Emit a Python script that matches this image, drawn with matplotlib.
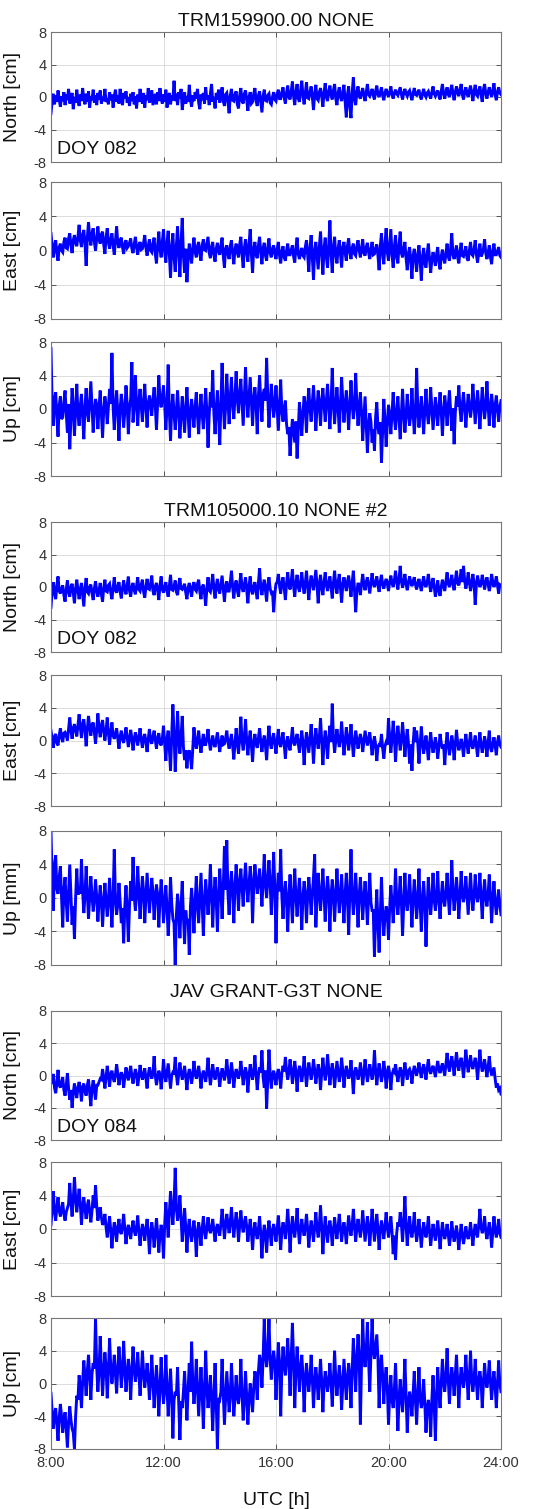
import numpy as np
import matplotlib.pyplot as plt

plt.rcParams["font.family"] = ["Liberation Sans", "DejaVu Sans"]

TITLES = ["TRM159900.00 NONE", "TRM105000.10 NONE #2", "JAV GRANT-G3T NONE"]
DOY_LABELS = ["DOY 082", "DOY 082", "DOY 084"]
Y_LABELS = [
    ["North [cm]", "East [cm]", "Up [cm]"],
    ["North [cm]", "East [cm]", "Up [mm]"],
    ["North [cm]", "East [cm]", "Up [cm]"],
]
X_TICKS = [8, 12, 16, 20, 24]
X_TICK_LABELS = ["8:00", "12:00", "16:00", "20:00", "24:00"]
Y_TICKS = [-8, -4, 0, 4, 8]

# values, 2.5 min steps from 8:00 to 24:00 (one row per hour)
north_trm159900 = [
    -2.0, -0.5, 0.4, -0.9, 0.2, -0.6, 0.8, -0.3, -1.2, 0.1, -0.5, 0.6, -1.0, 0.3, -0.4, 1.0, -0.8, -0.1, 0.5, -1.5, 0.0, -0.7, 0.9, -0.4,
    -1.1, 0.3, -0.5, 1.1, -0.2, -0.9, 0.4, -0.6, 0.7, -1.3, 0.1, -0.4, 0.9, -0.7, 0.2, -1.0, 0.5, -0.3, 0.8, -0.8, 0.0, -0.5, 1.0, -0.6,
    -0.2, -0.9, 0.6, -0.4, 0.3, -1.3, 0.1, 0.9, -0.6, 0.2, -0.8, 1.0, -0.3, -1.0, 0.5, -0.2, 0.7, -0.7, 0.0, -1.1, 0.4, -0.5, 0.6, -0.9,
    0.1, -1.4, 0.3, -0.6, 1.0, -0.2, -0.8, 0.5, -1.3, 0.2, -0.4, 1.1, -0.7, 0.0, 0.8, -1.0, -0.3, 0.4, -0.9, 0.6, -0.5, 1.1, -0.2, -0.8,
    0.3, -0.6, 0.9, -1.3, -0.1, 0.5, -0.9, 0.2, -0.4, 2.0, -0.5, 0.4, -1.0, 0.6, -0.2, 1.0, -1.6, -0.3, 0.6, -0.8, 0.1, -0.6, 1.5, -0.4,
    -1.2, 0.2, -0.5, 0.6, -0.2, 1.0, -0.7, -1.5, 0.3, -0.4, 0.5, -0.8, 1.2, -0.3, 0.2, -1.0, 0.4, 1.6, -0.6, 0.0, -1.4, 0.5, -0.3, 0.9,
    -0.7, 0.1, 1.2, -0.5, -1.1, 0.3, 0.5, -0.6, -2.0, 0.2, 1.0, -0.4, -0.5, 0.3, 0.7, -0.9, -1.4, 0.2, 1.1, -0.5, -0.8, 0.4, 0.8, -0.3,
    -1.7, 0.0, 0.6, -0.8, -0.6, 0.4, 1.1, -0.5, -1.1, 0.2, 0.7, -0.6, -1.9, 0.1, 0.9, -0.4, -0.5, 0.2, 0.4, -0.7, -0.9, 0.0, 0.6, -0.3,
    -0.5, 0.4, 0.9, -0.2, -0.2, 0.6, 1.2, -0.1, -0.8, 0.5, 1.4, 0.0, -0.3, 0.7, 1.9, 0.1, -1.0, 0.6, 1.6, -0.2, -0.6, 0.8, 2.0, 0.2,
    -0.9, 0.5, 1.8, -0.1, -0.2, 0.6, 1.3, 0.0, -1.6, 0.4, 1.5, -0.2, -0.4, 0.6, 1.1, 0.1, -1.2, 0.5, 1.7, 0.0, -0.5, 0.7, 1.4, 0.2,
    -0.3, 0.8, 1.6, -0.2, -1.0, 0.5, 1.2, 0.0, -0.5, 0.6, 1.5, -0.6, -2.5, 0.3, 1.3, -1.2, -2.6, 0.5, 2.4, -0.3, -1.0, 0.6, 1.3, 0.1,
    -0.2, 0.5, 1.1, 0.2, -0.5, 0.6, 1.6, 0.3, 0.1, 0.5, 1.0, 0.2, -0.3, 0.7, 1.4, 0.3, 0.0, 0.6, 1.2, 0.2, -0.4, 0.5, 1.0, 0.4,
    0.0, 0.6, 1.3, 0.3, -0.2, 0.5, 0.9, 0.4, 0.2, 0.7, 1.2, 0.3, -0.3, 0.5, 1.0, 0.4, 0.1, 0.6, 0.8, 0.2, -0.4, 0.5, 1.1, 0.3,
    0.2, 0.6, 0.9, 0.1, -0.3, 0.4, 1.0, 0.3, 0.0, 0.5, 0.7, 0.2, -0.2, 0.6, 1.3, 0.4, 0.1, 0.5, 0.8, 0.2, -0.3, 0.7, 1.6, 0.4,
    -0.2, 0.6, 1.2, 0.3, 0.0, 0.8, 1.5, 0.4, -0.4, 0.6, 1.3, 0.5, 0.1, 0.9, 1.6, 0.3, -0.3, 0.6, 1.2, 0.4, 0.0, 0.8, 1.4, 0.5,
    -0.5, 0.7, 1.5, 0.3, 0.1, 0.8, 1.3, 0.2, -0.6, 0.9, 1.6, 0.4, -0.2, 0.6, 1.2, 0.5, 0.0, 0.8, 1.7, 0.3, -0.4, 0.6, 1.2, 0.5,
    0.3,
]
east_trm159900 = [
    2.0, 0.5, -0.8, 0.6, 1.2, -0.3, -1.2, 0.4, 0.8, 0.0, -0.2, 1.0, 1.5, 0.3, 0.2, 1.4, 2.0, 0.6, -0.3, 1.2, 1.8, 0.9, 0.5, 1.6,
    3.0, 1.2, 0.4, 1.8, 2.4, 0.8, -1.8, 1.5, 3.3, 1.6, 0.6, 2.0, 2.6, 1.0, 0.0, 1.4, 2.8, 1.3, 0.8, 1.9, 2.2, 0.7, -0.4, 1.5,
    2.6, 1.0, 0.2, 1.3, 2.0, 0.6, -0.5, 1.1, 2.8, 0.9, 0.3, 1.2, 1.5, 0.4, -0.4, 0.8, 1.2, 0.3, 0.5, 0.9, 1.4, 0.2, -0.3, 0.7,
    1.6, 0.4, -0.5, 0.6, 1.0, 0.1, 0.2, 0.9, 1.8, 0.3, -0.6, 0.5, 1.3, 0.0, -0.2, 0.8, 1.5, -0.4, -1.5, 0.6, 2.2, 0.2, -0.8, 1.0,
    2.5, -0.2, -1.4, 0.9, 2.3, -0.5, -3.2, 0.4, 2.0, -0.8, -2.5, 0.6, 2.8, -0.3, -3.1, 1.0, 3.8, -0.6, -2.6, 0.2, -3.7, -1.0, 0.8, -0.5,
    -1.5, 0.3, 1.5, -0.2, -0.8, 0.5, 1.0, -0.4, -1.2, 0.6, 1.3, 0.1, 0.0, 0.8, 1.6, -0.3, -0.9, 0.4, 1.0, -0.5, -1.3, 0.2, 0.9, -0.1,
    -0.5, 0.6, 1.5, -0.6, -2.0, 0.2, 0.6, -0.4, -1.0, 0.5, 1.2, -0.3, -1.6, 0.1, 0.8, -0.2, -0.8, 0.7, 1.6, -0.5, -2.0, 0.3, 1.3, -0.2,
    -1.3, 0.8, 2.5, -0.4, -2.6, 0.2, 1.0, -0.5, -0.9, 0.6, 1.6, -0.2, -1.6, 0.3, 0.9, -0.6, -1.2, 0.4, 1.4, -0.3, -0.8, 0.2, 0.6, -0.4,
    -1.0, 0.2, 1.0, -0.6, -1.5, -0.1, 0.5, -0.8, -1.2, 0.0, 0.8, -0.5, -0.5, 0.1, 0.6, -0.7, -1.4, 0.3, 1.5, -0.4, -1.0, -0.2, 0.3, -0.6,
    -0.8, 0.4, 1.2, -0.5, -2.5, 0.3, 1.8, -0.9, -3.4, 0.0, 1.0, -0.6, -2.2, 0.5, 2.2, -0.4, -2.8, 0.2, 1.5, -0.8, -2.0, 0.6, 3.5, -0.3,
    -2.6, 0.3, 1.6, -0.5, -1.5, 0.2, 1.2, -0.4, -2.0, 0.4, 1.0, -0.3, -1.2, 0.6, 1.4, -0.2, -1.0, 0.3, 0.8, -0.4, -0.6, 0.5, 1.2, 0.0,
    -0.8, 0.2, 1.3, -0.3, -0.6, 0.4, 0.9, -0.2, -1.0, 0.1, 1.0, -0.5, -0.4, 0.3, 0.7, -0.6, -2.3, 0.5, 2.0, -0.4, -1.6, 0.8, 2.6, -0.2,
    -1.2, 0.6, 2.5, -0.5, -2.0, 0.4, 1.8, -0.8, -1.5, 0.7, 2.2, -0.3, -0.8, 0.2, 1.0, -0.9, -2.3, -0.4, 0.4, -1.2, -3.3, -0.6, 0.2, -1.0,
    -2.5, -0.5, 0.6, -1.2, -3.5, -0.8, 0.3, -1.5, -2.0, -0.4, 0.8, -1.0, -2.6, -1.1, -0.2, -0.9, -1.8, -0.5, 0.4, -1.3, -2.2, -0.7, 0.1, -0.9,
    -1.5, -0.3, 0.8, -0.7, -1.2, 0.2, 2.0, -0.5, -1.0, -0.2, 0.6, -0.8, -1.5, -0.1, 0.9, -0.6, -0.7, -0.2, 0.5, -0.9, -1.2, 0.0, 1.0, -0.4,
    -0.6, 0.1, 1.2, -0.5, -1.4, -0.2, 0.8, -0.7, -0.4, 0.2, 1.3, -0.3, -1.0, -0.3, 0.6, -0.8, -1.6, 0.0, 0.8, -0.5, -0.5, -0.1, 0.4, -0.6,
    -0.8,
]
up_trm159900 = [
    7.2, 0.5, -2.0, 1.2, 2.0, -0.8, -3.3, 0.4, 1.5, -1.2, -1.0, 0.8, 2.2, -0.5, -2.8, 0.6, -4.8, -1.0, 2.5, 0.3, -3.2, 0.0, 3.0, -0.6,
    -2.0, 0.4, 1.8, -0.8, -3.6, 0.2, 2.5, -0.4, -1.5, 0.8, 3.3, 0.1, -2.8, -0.3, 1.2, 0.5, -2.4, 0.2, 2.2, -0.6, -3.4, -0.2, 1.5, 0.4,
    -1.8, 0.3, 2.4, 0.6, 6.7, 0.2, -2.5, 0.5, 2.2, -0.4, -3.8, 0.0, 1.8, 0.4, -2.2, -0.3, 2.8, 0.6, -3.0, 0.1, 1.2, 5.6, -1.6, 0.4,
    4.0, 0.6, -2.0, 0.9, 2.4, 0.3, -1.5, 1.0, 3.0, 0.2, -2.2, 0.7, 1.6, 0.5, -0.8, 1.2, 2.6, 0.4, -2.5, 0.8, 4.0, 1.0, 0.2, 1.4,
    2.8, 0.5, -2.5, 0.2, 5.3, -0.3, -3.8, 0.0, 1.8, -0.6, -2.5, -0.2, 2.2, -0.4, -3.5, -0.8, 1.5, -0.5, -2.8, 0.1, 2.6, -0.6, -3.4, -0.3,
    1.2, -0.5, -2.2, 0.3, 2.0, -0.8, -3.0, -0.2, 1.8, -0.6, -2.4, 0.1, 2.5, -0.4, -4.6, -0.7, 2.0, 0.2, 4.6, -0.5, -3.0, 0.0, 2.2, -0.9,
    -4.3, 0.5, 5.5, 0.8, -2.4, 0.3, 4.2, 1.0, -1.8, 1.4, 3.8, 0.6, -1.2, 1.5, 4.5, 1.2, -0.5, 1.8, 3.6, 0.9, -2.0, 1.6, 5.0, 1.3,
    -1.0, 1.5, 3.8, 0.8, -2.0, 1.2, 2.6, 0.5, -3.0, 1.6, 4.0, 0.9, -1.5, 1.8, 2.4, 1.0, 6.1, 1.4, -2.2, 0.6, 3.0, 1.1, -1.0, 0.4,
    2.8, 0.2, -2.6, 0.5, 3.5, -0.3, -1.5, 0.1, 1.0, -1.8, -3.0, -2.2, -5.6, -3.0, -1.2, -2.6, -4.0, -1.5, -5.9, -2.4, 0.8, -1.0, -3.2, -0.5,
    1.5, 0.3, -2.8, 0.6, 2.5, 0.0, -1.5, 0.8, 2.8, 0.4, -2.6, 0.2, 2.2, 0.6, -2.0, 0.9, 2.5, 0.5, -1.5, 1.0, 3.0, 0.3, -2.4, 0.7,
    4.9, 0.8, -1.8, 0.4, 2.6, 0.2, -2.8, 0.6, 3.8, 0.9, -1.6, 0.5, 2.2, 0.1, -2.5, 0.4, 3.4, 0.7, -1.2, 0.3, 4.3, 0.6, -2.0, 0.2,
    2.0, -0.5, -3.8, -1.2, 1.5, -1.8, -5.2, -2.0, -0.5, -1.5, -4.0, -2.4, -5.0, -1.0, 0.8, -2.2, -3.0, -1.6, -6.4, -2.5, 1.2, -1.4, -4.5, -1.8,
    0.5, -0.8, -3.0, -0.4, 2.0, -1.0, -2.5, -0.2, 1.5, -1.2, -3.6, -0.6, 2.4, -0.5, -2.8, -0.9, 1.8, -0.3, -2.0, -0.7, 2.5, -0.4, -3.0, -0.8,
    4.9, 0.2, -2.2, -0.3, 1.5, -0.6, -3.0, 0.0, 2.4, -0.4, -1.8, -0.2, 2.6, 0.1, -2.5, -0.5, 1.4, -0.2, -2.0, 0.2, 2.0, -0.3, -3.2, -0.4,
    1.6, 0.2, -2.0, 0.4, 2.2, -0.3, -2.6, 0.1, -4.2, -0.5, 1.5, 0.3, 2.8, 0.0, -1.5, 0.5, 2.0, 0.2, -2.2, -0.1, 1.8, 0.4, -1.0, 0.3,
    3.0, 0.5, -1.8, 0.2, 2.2, 0.4, -2.4, 0.0, 2.6, 0.6, -1.2, 0.3, 3.3, 0.5, -2.0, 0.1, 1.8, 0.3, -2.2, 0.4, 1.6, 0.0, -1.5, 0.2,
    1.0,
]

north_trm105000 = [
    -2.5, -0.4, 0.6, -0.8, -1.5, 0.2, 1.3, -0.5, -0.8, -0.2, 0.2, -1.0, -1.8, -0.3, 0.8, -0.6, -1.2, 0.0, 0.4, -0.7, -2.0, -0.2, 0.9, -0.4,
    -1.5, -0.3, 0.5, -0.9, -2.4, -0.1, 1.1, -0.6, -0.8, 0.0, 0.3, -0.8, -1.6, -0.2, 0.7, -0.5, -1.2, -0.4, 0.5, -0.9, -1.8, -0.1, 0.9, -0.5,
    -0.6, 0.2, 0.4, -0.7, -1.5, -0.1, 1.2, -0.4, -0.7, 0.1, 0.6, -0.6, -1.4, -0.2, 0.8, -0.3, -0.9, 0.2, 1.3, -0.5, -1.2, 0.0, 0.5, -0.4,
    -0.9, 0.1, 1.2, -0.3, -0.5, 0.3, 0.9, -0.6, -1.3, 0.0, 1.0, -0.2, -0.3, 0.4, 1.4, -0.5, -1.0, 0.1, 0.5, -0.4, -1.6, 0.2, 1.3, -0.3,
    -0.7, 0.0, 0.6, -0.5, -1.2, 0.2, 1.5, -0.3, -0.4, 0.1, 0.8, -0.6, -1.0, 0.3, 1.1, -0.2, -0.3, 0.0, 0.4, -0.7, -1.5, -0.1, 0.5, -0.4,
    -1.2, 0.1, 0.6, -0.3, -0.5, 0.4, 0.9, -0.6, -1.5, 0.0, 0.3, -0.8, -2.3, -0.2, 1.2, -0.4, -0.6, 0.3, 1.6, -0.2, -1.4, 0.1, 1.0, -0.3,
    -0.8, 0.3, 1.4, -0.2, -1.8, 0.1, 0.7, -0.5, -0.5, 0.6, 2.0, 0.0, -1.4, 0.2, 0.8, -0.4, -1.2, 0.4, 1.7, -0.1, -0.6, 0.3, 1.2, -0.3,
    -2.0, 0.2, 1.3, -0.4, -0.9, 0.1, 0.6, -0.6, -1.5, 0.5, 2.3, 0.0, -1.0, 0.2, 0.9, -0.5, -1.8, 0.3, 1.2, -0.2, -0.7, -0.5, -3.1, -0.8,
    0.4, 0.6, 1.6, 0.2, -0.8, 0.5, 1.2, -0.1, -1.6, 0.4, 1.8, 0.3, -0.3, 0.7, 2.2, 0.1, -1.2, 0.5, 1.5, 0.0, -0.6, 0.6, 1.8, 0.2,
    -0.8, 0.4, 2.0, 0.1, -1.6, 0.3, 1.4, 0.5, -0.4, 0.8, 2.1, 0.2, -2.0, 0.4, 1.5, -0.1, -1.0, 0.6, 1.8, 0.3, -0.5, 0.5, 1.3, 0.0,
    -1.4, 0.5, 2.0, 0.2, -0.8, 0.6, 1.6, -0.2, -1.9, 0.3, 1.2, 0.4, -0.5, 0.7, 1.4, 0.1, -1.2, 0.5, 2.0, -0.4, -3.1, -0.6, 0.5, 0.2,
    -1.0, 0.4, 1.6, 0.3, -0.4, 0.6, 1.2, 0.2, -0.8, 0.5, 1.7, 0.4, 0.0, 0.6, 1.3, 0.2, -0.6, 0.7, 1.5, 0.3, -0.2, 0.5, 1.0, 0.4,
    -0.5, 0.6, 1.4, 0.5, 0.0, 0.8, 2.0, 0.6, -0.3, 1.0, 2.6, 0.7, -0.1, 0.6, 1.6, 0.4, -0.4, 0.5, 1.3, 0.6, 0.1, 0.7, 1.2, 0.3,
    -0.3, 0.4, 1.0, 0.2, -0.5, 0.5, 1.3, 0.3, 0.0, 0.6, 1.6, 0.4, -0.6, 0.3, 1.1, 0.1, -1.2, -0.3, 0.8, -0.5, -1.1, 0.0, 0.9, 0.2,
    -0.5, 0.6, 1.8, 0.4, 0.0, 0.7, 1.5, 0.3, -0.4, 0.8, 2.0, 0.5, 0.2, 0.9, 2.2, 0.6, 2.6, 0.8, -0.2, 0.5, 1.8, 0.6, -0.5, 0.4,
    1.6, 0.5, -2.2, 0.3, 1.4, 0.6, 0.0, 0.4, 1.5, 0.7, -0.3, 0.5, 1.2, 0.4, -0.5, 0.3, 1.6, 0.6, 0.0, 0.5, 1.3, 0.2, -0.8, 0.3,
    0.2,
]
east_trm105000 = [
    1.2, 0.2, -0.9, 0.5, 0.8, -0.3, -0.6, 0.6, 1.5, 0.4, -0.2, 0.9, 1.0, 0.6, 0.0, 1.4, 2.8, 1.3, 0.2, 1.5, 2.0, 1.2, 0.5, 1.8,
    3.2, 1.6, 0.3, 2.0, 2.6, 1.2, -0.7, 1.4, 3.0, 1.7, 0.6, 1.9, 2.2, 1.0, -0.4, 1.3, 3.3, 1.5, 0.4, 1.8, 2.5, 1.1, 0.0, 1.2,
    2.8, 0.9, -0.5, 1.0, 2.2, 0.6, 0.2, 0.8, 1.5, 0.3, -1.0, 0.5, 1.2, 0.2, -0.3, 0.6, 1.6, 0.4, -0.8, 0.2, 1.3, 0.3, -1.2, 0.1,
    1.0, 0.3, -0.6, 0.4, 1.5, 0.1, -0.9, 0.3, 0.8, -0.2, -1.4, 0.2, 1.4, 0.0, -0.4, 0.5, 1.2, 0.1, -1.0, 0.3, 0.9, -0.3, -0.6, 0.2,
    1.8, -0.4, -2.5, 0.2, 1.2, -1.0, -3.7, 0.6, 4.4, 0.8, -3.8, -0.5, 3.6, 0.2, -1.6, 0.5, 3.0, -0.8, -2.4, -1.2, -3.4, -1.5, -1.2, -2.0,
    -3.5, -1.0, 1.6, -0.3, -1.0, 0.2, 1.2, -0.4, -1.5, -0.2, 0.8, -0.5, -0.5, 0.3, 1.4, -0.1, -1.2, -0.3, 0.6, -0.4, -0.8, 0.1, 1.0, -0.2,
    -1.4, -0.2, 0.6, -0.5, -0.4, 0.3, 1.2, -0.2, -1.0, -0.1, 0.8, -0.6, -2.3, -0.4, 1.5, -0.3, -1.6, 0.2, 2.9, 0.0, -1.2, 0.4, 2.6, -0.1,
    -1.8, 0.0, 1.2, -0.6, -2.6, -0.2, 0.8, -0.4, -0.9, 0.3, 1.5, -0.2, -1.4, -0.1, 0.6, -0.7, -2.4, 0.1, 1.8, -0.3, -1.0, 0.2, 0.9, -0.4,
    -1.6, 0.0, 1.4, -0.3, -0.8, 0.2, 1.0, -0.5, -2.2, -0.3, 0.5, -0.6, -1.2, 0.1, 1.6, -0.2, -0.6, 0.2, 0.8, -0.4, -1.5, 0.0, 1.2, -0.3,
    -3.0, -0.4, 1.0, -0.2, -1.5, 0.3, 2.0, -0.1, -2.8, -0.2, 1.5, 0.1, -1.0, 0.4, 2.7, 0.0, -3.0, -0.3, 1.2, -0.1, -2.2, 0.2, 1.8, -0.2,
    4.5, 0.3, -1.5, 0.0, 1.4, 0.2, -0.8, 0.3, 2.3, 0.1, -1.8, -0.2, 1.6, 0.4, -1.2, 0.1, 2.0, 0.0, -2.0, -0.3, 1.2, 0.2, -1.0, 0.0,
    0.8, 0.1, -1.4, -0.2, 1.2, 0.3, -0.6, 0.1, 1.0, -0.3, -1.8, -0.4, 0.5, -0.5, -2.5, -0.8, -0.5, -0.6, 0.8, -0.9, -2.2, -0.7, -0.2, -0.5,
    2.7, 0.4, -1.5, 0.2, 2.4, 0.5, -2.6, 0.0, 1.8, 0.3, -1.2, 0.1, 2.2, 0.4, -2.0, -0.2, 1.4, -0.3, -2.8, -0.5, -3.7, -0.4, 1.6, -0.2,
    1.2, -0.3, -2.8, -0.5, 1.7, -0.2, -1.6, -0.6, 0.6, -0.8, -2.4, -0.4, 1.0, -0.5, -1.5, -0.7, 0.4, -0.6, -2.2, -0.8, 0.8, -0.3, -1.0, -0.5,
    -3.0, -0.6, 1.0, -0.4, -1.8, -0.8, 0.6, -0.3, -2.4, -0.5, 1.3, -0.2, -1.2, -0.7, 0.2, -0.6, -2.0, -0.4, 0.8, -0.5, -1.6, -0.3, 1.0, -0.6,
    -1.0, -0.3, 0.6, -0.7, -2.0, -0.4, 1.0, -0.5, -1.5, -0.6, 0.5, -0.4, -2.0, -0.3, 1.2, -0.8, -1.4, -0.5, 0.4, -0.6, -1.8, -0.2, 0.6, -0.5,
    -0.8,
]
up_trm105000 = [
    8.0, 2.0, -1.5, 4.0, 5.1, 1.0, 0.5, 2.5, 3.8, 0.2, -3.5, 1.0, 2.5, -0.5, -2.8, 0.6, 4.0, 0.3, -3.2, -1.0, -4.9, 0.0, 3.5, 0.4,
    1.0, 0.5, 4.6, 0.8, -1.8, 0.2, 3.8, 0.6, -2.5, 0.0, 2.6, 0.3, -1.6, -0.2, 2.2, 0.1, -2.8, -0.5, 1.5, -0.3, -3.4, -0.6, 1.8, -0.4,
    -2.2, -0.3, 2.4, -0.6, -3.5, 0.0, 5.8, -0.2, -2.0, -0.8, 1.8, -0.4, -3.0, -1.2, -5.4, -1.0, 1.5, -1.5, -5.2, -0.9, 2.0, -0.3, 4.9, 0.2,
    -1.5, 0.4, 3.8, 0.6, -2.5, 0.2, 2.6, 0.8, -3.0, 0.1, 3.0, 0.5, -1.8, 0.3, 2.4, 0.7, -2.6, 0.0, 1.6, 0.4, -3.5, -0.2, 2.2, 0.1,
    -3.0, -0.8, 1.5, -1.2, -4.5, -1.6, 2.5, -0.6, -2.5, -3.0, -8.0, -2.0, 0.5, -1.4, -4.8, -0.8, 2.0, -2.2, -5.5, -1.5, -3.0, -2.5, -6.8, -1.0,
    1.2, -1.0, -4.2, -0.5, 2.6, -0.8, -3.0, 0.0, 3.0, -0.6, -4.5, -0.3, 2.2, 0.2, -2.0, 0.4, 4.0, 0.1, -3.5, 0.3, 2.5, -0.2, -4.0, 0.5,
    3.5, 0.8, -2.5, 1.2, 6.2, 1.0, 6.9, 0.5, -2.0, 1.5, 3.2, 0.8, -3.0, 1.4, 4.0, 1.6, -1.5, 1.8, 3.5, 1.2, -1.0, 2.0, 4.2, 1.5,
    -0.5, 1.6, 3.8, 2.0, -3.0, 1.4, 4.0, 2.2, 0.5, 1.8, 3.5, 1.5, -1.0, 2.0, 5.2, 1.6, 0.0, 2.2, 4.5, 1.9, -2.0, 1.4, 5.5, 1.2,
    -5.4, 0.5, 3.0, 0.8, 5.8, 0.2, -2.5, 0.6, 2.0, -0.4, -4.0, 0.3, 2.8, 0.0, -3.0, 0.5, 3.5, 0.2, -2.2, 0.4, 2.4, -0.3, -3.8, 0.1,
    2.0, 0.4, -3.0, 0.2, 2.5, 0.6, -2.0, 0.3, 2.5, 5.2, -3.5, 0.0, 3.0, 0.5, -1.5, 0.8, 3.5, 0.2, -2.8, 0.4, 2.6, 0.6, -4.0, 0.3,
    2.2, 0.5, -2.8, 0.1, 3.5, 0.6, -1.8, 0.3, 2.8, 0.0, -3.0, 0.4, 3.0, 0.2, -4.4, 0.5, 5.8, 0.4, -2.0, 0.2, 3.0, 0.0, -3.5, 0.3,
    2.5, 0.2, -2.6, 0.0, 2.0, -0.3, -3.2, 0.2, 3.0, -0.5, -1.5, -1.5, -7.0, -2.5, 1.0, -3.0, -6.5, -2.0, 2.5, -1.6, -4.5, -2.2, -1.0, -1.8,
    -5.0, -1.2, 1.5, -0.6, -3.0, -0.4, 3.5, -0.2, -2.0, 0.0, 2.6, -0.5, -4.5, -0.8, 3.0, -0.3, -1.5, 0.2, 2.8, -0.4, -3.5, -0.2, 2.2, 0.0,
    -2.5, -0.3, 3.5, -0.6, -4.0, -0.2, 2.0, -0.5, -5.8, -1.0, 2.5, -0.3, -2.0, 0.0, 3.0, -0.2, -1.5, 0.3, 3.2, -0.4, -2.5, 0.1, 2.0, -0.2,
    -1.0, 0.6, 3.0, 0.2, -2.0, 0.5, 4.5, 0.8, -1.5, 0.3, 2.5, 0.4, -2.5, 0.1, 3.2, 0.6, -0.5, 0.5, 2.6, 0.2, -2.0, 0.4, 3.0, 0.3,
    -1.5, 0.2, 2.8, 0.5, -0.5, 0.6, 3.0, 0.1, -2.5, 0.3, 2.2, 0.0, -1.0, 0.4, 2.8, 0.2, -3.0, -0.2, 2.0, -0.4, -2.0, -0.5, 1.0, -0.8,
    -2.0,
]

north_jav = [
    -1.0, -0.8, 0.2, -1.5, -2.2, -1.0, 0.7, -1.2, -1.5, -0.9, -0.2, -1.8, -2.5, -1.3, 0.3, -1.6, -3.0, -1.8, -4.0, -2.2, -1.0, -2.0, -2.8, -1.5,
    -0.8, -1.8, -3.2, -1.4, -1.0, -2.0, -2.5, -1.2, -0.5, -2.2, -3.8, -1.6, -0.6, -1.8, -3.0, -1.2, -1.2, -0.8, -0.4, -0.5, 0.8, -0.3, -1.6, -0.2,
    1.2, 0.0, -1.4, 0.2, 0.6, -0.3, -0.8, 0.1, 1.4, 0.2, -1.2, -0.1, 0.4, 0.0, -1.5, -0.2, 1.0, 0.1, -0.6, 0.3, 1.2, -0.1, -1.0, 0.0,
    0.8, 0.1, -1.3, -0.2, 1.3, 0.3, -0.5, 0.0, 0.9, -0.3, -1.6, 0.1, 1.0, 0.2, -0.4, 0.3, 2.4, 0.0, -1.2, -0.2, 0.6, 0.1, -1.7, -0.1,
    2.0, 0.2, -0.8, 0.3, 1.5, -0.1, -1.6, 0.0, 0.4, 0.3, 2.3, 0.1, -1.2, 0.2, 1.6, 0.4, -0.5, 0.1, 1.2, -0.2, -1.8, 0.0, 0.8, 0.2,
    -1.0, 0.1, 1.8, 0.3, -0.4, 0.2, 1.2, 0.0, -1.6, -0.1, 0.6, 0.2, -0.8, 0.4, 2.2, 0.3, -1.2, 0.0, 1.4, 0.2, -0.5, 0.3, 1.0, 0.1,
    -1.4, 0.0, 0.9, 0.2, -0.6, 0.3, 2.0, 0.4, -1.0, 0.1, 1.6, 0.3, -1.5, -0.1, 0.8, 0.2, -0.4, 0.3, 1.8, 0.5, -1.2, 0.1, 1.0, 0.2,
    -2.1, 0.0, 1.4, 0.3, -0.5, 0.5, 2.5, 0.2, -1.8, 0.0, 1.0, 0.4, 3.1, -0.2, -1.5, 0.6, -4.1, -0.5, 3.2, 0.3, -1.6, 0.0, 0.6, -0.2,
    -1.2, 0.2, 0.8, -0.1, -1.6, 0.3, 1.2, 0.5, 2.3, 0.6, -0.5, 0.4, 2.0, 0.7, -1.0, 0.3, 1.8, 0.5, -2.0, 0.2, 1.2, 0.6, -0.8, 0.4,
    2.4, 0.5, -1.4, 0.3, 1.6, 0.6, -0.5, 0.4, 2.0, 0.7, -1.0, 0.2, 1.4, 0.5, -1.8, 0.3, 2.2, 0.6, -0.6, 0.4, 2.6, 0.8, -1.2, 0.3,
    1.5, 0.4, -1.5, 0.2, 1.8, 0.5, -0.8, 0.3, 2.2, 0.6, -1.5, 0.1, 1.2, 0.4, -0.4, 0.2, 1.9, 0.0, -2.3, 0.3, 1.0, 0.5, -0.5, 0.2,
    1.6, 0.4, -1.2, 0.3, 2.0, 0.6, -0.8, 0.2, 1.4, 0.5, -0.5, 0.4, 3.1, 0.6, -1.2, 0.3, 1.5, 0.4, -0.8, 0.2, 1.8, 0.5, -1.6, 0.3,
    1.2, 0.2, -1.8, 0.1, 0.6, 0.4, 1.4, 0.3, -0.8, 0.2, 1.0, 0.5, -1.3, 0.3, 1.6, 0.4, -0.5, 0.6, 0.8, 0.3, -1.0, 0.4, 1.2, 0.5,
    0.0, 0.7, 1.6, 0.6, -0.3, 0.8, 1.4, 0.5, -0.5, 0.9, 2.0, 0.7, 0.2, 0.8, 1.2, 0.6, -0.2, 0.9, 1.8, 0.8, 0.3, 1.0, 1.5, 0.7,
    0.0, 1.4, 2.8, 1.2, 0.5, 1.6, 2.4, 1.3, 0.0, 1.5, 2.9, 1.4, 0.6, 1.7, 2.2, 1.2, -0.3, 1.5, 3.2, 1.6, 0.4, 1.4, 2.5, 1.3,
    0.8, 1.5, 2.2, 1.2, -0.5, 1.3, 3.2, 1.4, 0.5, 1.2, 2.0, 0.9, -0.2, 1.0, 2.4, 0.8, 0.0, 0.5, 1.0, -0.4, -1.5, -1.0, -1.8, -1.6,
    -2.3,
]
east_jav = [
    0.5, 2.5, 4.5, 2.0, 1.0, 2.6, 3.8, 2.2, 1.5, 2.4, 3.2, 1.8, 1.0, 2.0, 2.5, 3.0, 5.5, 3.2, 1.5, 3.5, 6.2, 3.8, 2.0, 3.4,
    4.8, 3.0, 0.5, 2.6, 3.8, 2.4, 1.2, 2.8, 3.5, 2.0, 0.8, 2.2, 4.0, 2.5, 5.2, 2.8, 1.0, 2.0, 2.6, 1.4, 0.5, 0.8, 1.8, 0.2,
    -1.0, 0.3, 1.5, -0.2, -2.3, -0.4, 0.8, -0.1, -1.5, 0.2, 1.2, -0.3, -0.6, 0.4, 1.8, 0.0, -1.8, -0.2, 0.5, -0.4, -1.2, 0.1, 1.0, -0.2,
    -0.8, 0.2, 1.6, -0.3, -2.0, -0.5, 0.6, -0.2, -1.4, 0.0, 1.2, -0.4, -3.0, -0.6, 0.8, -0.3, -2.2, -0.4, 1.3, -0.5, -2.8, -0.7, 0.5, -0.6,
    -3.5, 0.5, 3.2, 1.2, -1.0, 2.0, 4.5, 2.4, 0.5, 3.0, 7.3, 2.5, 1.0, 2.0, 4.0, 1.2, -1.5, 0.4, 2.5, 0.2, -2.8, -0.2, 1.2, -0.4,
    -1.5, -0.2, 1.0, -0.5, -3.3, -0.4, 0.8, -0.3, -2.0, 0.0, 1.5, -0.2, -1.2, 0.1, 1.4, 0.0, -0.5, 0.2, 1.2, -0.1, -1.5, 0.0, 0.6, -0.2,
    -0.8, 0.6, 2.4, 0.8, -1.2, 0.4, 1.8, 0.7, -0.5, 0.9, 2.6, 0.5, -1.0, 0.6, 2.0, 0.8, -1.5, 0.4, 2.2, 0.6, -0.4, 0.7, 1.5, 0.3,
    -1.5, -0.2, 1.2, -0.4, -2.5, -0.3, 0.8, -0.5, -1.2, 0.0, 1.5, -0.6, -3.5, -0.8, 0.5, -0.7, -2.8, -0.4, 1.0, -0.5, -2.0, -0.2, 0.6, -0.3,
    -1.5, 0.0, 1.6, -0.2, -2.5, -0.3, 0.8, 0.1, -1.2, 0.3, 2.4, 0.2, -2.8, -0.2, 1.5, 0.0, -1.0, 0.4, 2.5, 0.1, -1.8, -0.1, 1.2, 0.0,
    -0.8, 0.2, 1.8, 0.0, -2.2, -0.2, 1.0, -0.1, -1.5, 0.3, 2.0, 0.1, -1.0, 0.4, 2.8, 0.2, -3.0, -0.4, 1.5, 0.0, -1.6, 0.1, 1.0, -0.1,
    -2.0, -0.2, 1.4, 0.0, -1.2, 0.2, 1.8, 0.1, -1.5, -0.1, 0.8, -0.2, -1.8, 0.0, 1.6, 0.2, -0.8, 0.4, 2.4, 0.3, -1.5, 0.1, 1.2, 0.0,
    -1.0, 0.2, 2.2, 0.3, -1.5, 0.0, 1.5, 0.2, -2.0, 0.1, 2.4, 0.4, -1.5, 0.2, 1.8, 0.0, -2.5, -0.2, 1.0, 0.1, -1.2, 0.3, 2.0, 0.2,
    -1.0, 0.2, 1.5, -0.3, -3.0, -0.8, -3.7, -0.5, 0.8, 0.3, 2.0, 0.6, -1.5, 1.0, 3.9, 0.5, -2.0, 0.0, 1.5, -0.2, -1.0, 0.1, 2.0, -0.1,
    -1.5, -0.3, 1.2, -0.4, -2.2, -0.5, 0.8, -0.2, -1.0, -0.1, 1.5, -0.3, -2.0, -0.6, 0.6, -0.4, -1.4, -0.2, 1.0, -0.5, -2.4, -0.7, 0.8, -0.4,
    -1.2, -0.5, 0.6, -0.6, -2.0, -0.8, 0.9, -0.5, -1.5, -0.7, 0.4, -0.9, -2.5, -0.8, 0.6, -0.6, -1.8, -0.9, 0.3, -0.7, -1.2, -0.5, 0.8, -0.6,
    -2.0, -0.4, 0.6, -0.5, -1.0, 0.5, 2.4, 0.2, -0.5, 0.1, 1.5, -0.3, -1.2, -0.2, 0.8, -0.4, -2.2, -0.3, 1.5, -0.1, -1.0, -0.2, 1.2, -0.5,
    -1.0,
]
up_jav = [
    -1.2, -3.5, -5.5, -3.8, -3.0, -5.0, -7.0, -4.2, -2.5, -4.0, -6.0, -4.5, -3.5, -5.5, -7.8, -4.8, -2.8, -4.4, -5.5, -6.0, -8.0, -4.0, -1.5, -2.0,
    1.0, -0.5, -3.0, 0.2, 2.8, 0.8, -1.5, 1.5, 3.5, 1.0, -2.0, 1.2, 2.5, 1.8, 8.0, 2.0, -1.0, 1.5, 5.8, 1.8, -1.5, 1.4, 3.8, 2.0,
    -1.8, 1.5, 5.5, 2.0, 0.0, 1.6, 3.5, 1.2, -1.2, 1.8, 4.5, 2.2, -0.5, 1.5, 5.2, 1.8, -1.0, 1.2, 3.0, 1.4, -2.0, 1.6, 4.5, 1.8,
    0.2, 1.5, 3.8, 1.2, -1.5, 1.0, 4.0, 1.4, -0.5, 0.8, 2.5, 0.6, -2.0, 0.4, 3.5, 0.2, -3.0, -0.2, 2.2, -0.4, -4.0, -0.6, 3.2, -0.2,
    -2.5, -0.8, 3.5, -0.5, -4.0, -1.2, 1.8, -1.6, -6.7, -2.0, -1.0, -1.5, 2.0, -2.4, -6.9, -2.2, -3.0, -1.0, 1.5, -1.4, -4.5, -0.8, 2.5, -1.0,
    5.1, 0.0, -2.5, -0.6, 3.0, -0.4, -4.0, -1.0, 2.0, -1.2, -5.5, -0.8, 4.0, -0.5, -3.0, -1.2, 1.0, -2.0, -5.8, -1.5, 2.5, -2.2, -8.0, -1.8,
    -2.0, -1.0, 3.0, -1.2, -5.0, -1.6, 1.5, -1.0, -3.5, -1.4, 2.5, -0.8, -4.0, -1.8, 1.0, -1.5, -2.5, -1.0, 3.0, -1.2, -4.5, -2.0, 1.5, -1.6,
    -5.0, -2.0, 0.0, -1.5, -3.5, -0.5, 1.5, 0.5, -2.0, 1.5, 3.5, 2.5, -0.5, 3.0, 8.0, 3.5, 2.0, 4.0, 8.0, 3.0, 0.5, 2.8, 4.0, 2.5,
    -2.0, 2.0, 5.0, 2.5, -4.0, 1.8, 4.5, 2.2, 1.0, 3.0, 5.5, 2.5, -1.5, 3.2, 7.4, 3.0, -3.0, 1.5, 4.5, 2.0, -1.0, 1.8, 3.5, 1.0,
    -3.5, 0.2, 2.5, 0.5, -1.0, 0.8, 3.5, 0.6, -3.0, 0.0, 2.0, 0.4, -2.0, 0.6, 3.0, 0.2, -3.5, -0.2, 1.5, 0.3, -1.0, 0.5, 2.5, 0.0,
    -2.8, 0.4, 4.0, 0.6, -1.5, 0.2, 2.2, 0.5, -3.2, 0.0, 3.0, 0.4, -2.0, 0.6, 2.5, 0.8, -3.0, 1.5, 5.5, 2.5, -1.0, 3.0, 6.0, 3.2,
    -5.0, 2.5, 8.0, 3.5, 2.0, 4.0, 7.5, 3.0, -1.0, 3.5, 8.0, 4.2, 3.0, 4.5, 6.0, 3.0, -3.0, 2.0, 3.5, 1.0, -2.5, 0.5, 2.0, -0.5,
    -5.0, -1.5, 1.0, -2.0, -3.0, -0.8, 2.5, -1.5, -5.8, -2.0, 0.5, -1.8, -3.5, -0.6, 3.0, -1.5, -6.0, -2.5, -1.0, -2.0, -4.0, -1.2, 1.5, -2.0,
    -5.0, -1.5, 2.0, -1.8, -3.0, -2.2, 0.5, -2.5, -6.0, -3.0, -2.0, -3.2, -6.5, -2.0, 1.0, -2.5, -7.0, -1.5, 2.0, -1.0, -3.0, 0.0, 3.0, 0.2,
    -1.0, 0.8, 4.3, 0.5, -2.5, 0.3, 2.0, 0.6, -1.5, 0.9, 3.5, 0.4, -3.0, 0.2, 2.0, 0.5, -0.5, 1.0, 3.5, 0.6, -2.0, 0.8, 4.0, 0.5,
    -1.0, 0.4, 3.0, 0.2, -2.0, 0.5, 1.5, 0.3, -3.0, 0.0, 2.5, 0.4, -0.5, 0.6, 2.8, 0.2, -2.0, 0.1, 1.5, -0.3, -3.0, -0.2, 2.8, 0.0,
    -1.0,
]

SERIES = [
    [north_trm159900, east_trm159900, up_trm159900],
    [north_trm105000, east_trm105000, up_trm105000],
    [north_jav, east_jav, up_jav],
]

# axes extents in pixels (top, bottom) on the 533 x 1509 canvas
PANEL_PX = [
    (32, 162), (182, 319), (342, 476),
    (522, 652), (675, 806), (831, 965),
    (1011, 1140), (1162, 1296), (1318, 1449),
]
TITLE_PADS = [4, 4, 10]
W, H = 533, 1509
LEFT, RIGHT = 51, 501

fig = plt.figure(figsize=(W / 100, H / 100), dpi=100)

for g in range(3):
    for k in range(3):
        top, bottom = PANEL_PX[3 * g + k]
        ax = fig.add_axes([LEFT / W, 1 - bottom / H, (RIGHT - LEFT) / W, (bottom - top) / H])
        vals = SERIES[g][k]
        hours = np.linspace(8, 24, len(vals))
        ax.plot(hours, vals, color="#0000ff", lw=2.1, solid_joinstyle="miter")

        ax.set_xlim(8, 24)
        ax.set_ylim(-8, 8)
        ax.set_xticks(X_TICKS)
        ax.set_yticks(Y_TICKS)
        ax.set_yticklabels([str(t) for t in Y_TICKS])
        ax.grid(True, color="#dcdcdc", lw=0.7)
        ax.set_axisbelow(True)
        ax.tick_params(direction="in", top=True, right=True, length=3.5,
                       width=0.7, color="#555555", labelcolor="#333333",
                       labelsize=10.5, pad=3)
        ax.tick_params(axis="x", pad=5)
        for sp in ax.spines.values():
            sp.set_color("#777777")
            sp.set_linewidth(0.8)

        ax.set_ylabel(Y_LABELS[g][k], fontsize=14, color="#111111")
        ax.yaxis.set_label_coords(-0.067, 0.5)

        if k == 0:
            ax.set_title(TITLES[g], fontsize=14, pad=TITLE_PADS[g], color="#111111")
            ax.text(0.013, 0.03, DOY_LABELS[g], transform=ax.transAxes,
                    fontsize=14, va="bottom", ha="left", color="#111111")

        if g == 2 and k == 2:
            ax.set_xticklabels(X_TICK_LABELS)
            ax.set_xlabel("UTC [h]", fontsize=14, color="#111111")
            ax.xaxis.set_label_coords(0.5, -0.33)
        else:
            ax.set_xticklabels([])

fig.savefig("out.png", dpi=100)
